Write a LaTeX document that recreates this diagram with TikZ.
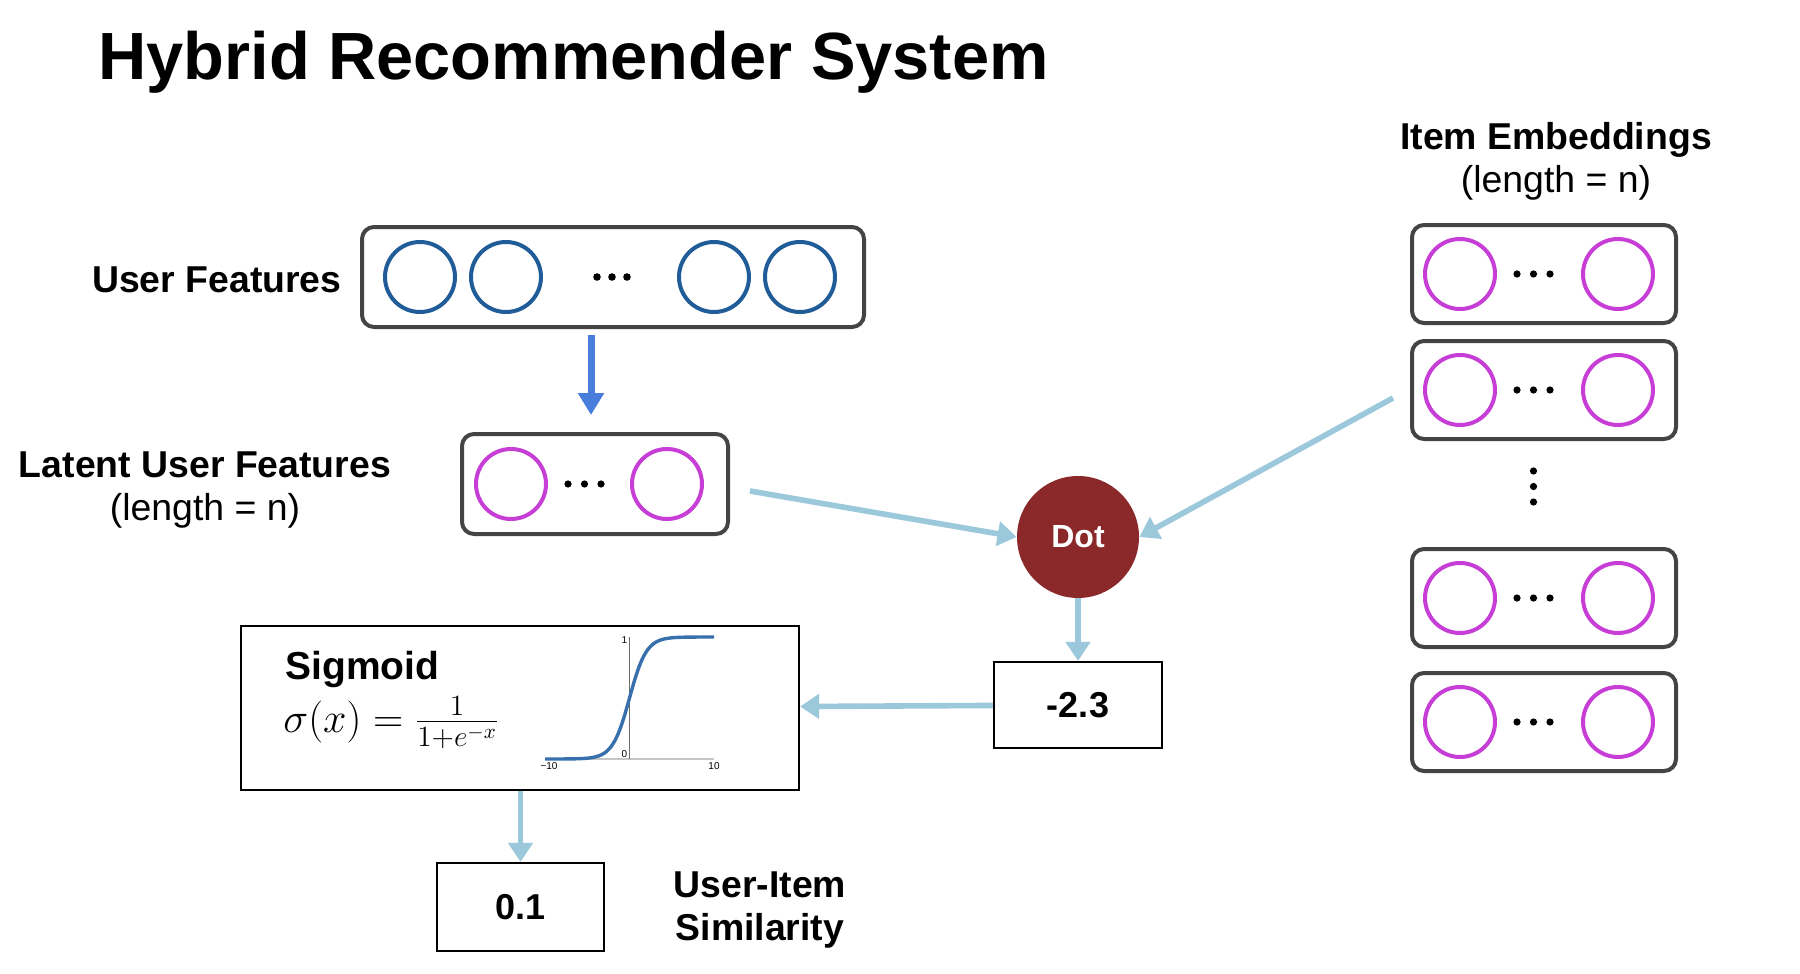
\documentclass[tikz,border=0pt]{standalone}
\usepackage{fix-cm}
\usepackage{fontspec}
\setmainfont{Liberation Sans}
\usetikzlibrary{arrows.meta}
\definecolor{framegray}{RGB}{68,68,68}
\definecolor{featblue}{RGB}{32,92,152}
\definecolor{embpink}{RGB}{198,62,214}
\definecolor{downblue}{RGB}{72,125,220}
\definecolor{flowblue}{RGB}{155,200,218}
\definecolor{dotred}{RGB}{139,41,42}
\definecolor{curveblue}{RGB}{55,112,172}
\tikzset{
  vecbox/.style={draw=framegray, line width=2pt, rounded corners=6pt, minimum height=49pt, inner sep=0pt},
  ucirc/.style={circle, draw=featblue, line width=2pt, minimum size=35pt, inner sep=0pt},
  pcirc/.style={circle, draw=embpink, line width=2pt, minimum size=35pt, inner sep=0pt},
  valbox/.style={draw, line width=1.1pt, inner sep=0pt, font=\fontsize{18}{20}\selectfont\bfseries},
  flow/.style={draw=flowblue, line width=2.8pt, -{Triangle[width=12pt,length=9.5pt]}},
  lbl/.style={font=\fontsize{18.7}{21.5}\selectfont\bfseries, align=center},
}
\begin{document}
\begin{tikzpicture}[x=0.5pt, y=-0.5pt]
  \useasboundingbox (0,0) rectangle (1800,974);
  \node[anchor=base west, font=\fontsize{33.4}{40}\selectfont\bfseries, inner sep=0pt] (title) at (98,80) {Hybrid Recommender System};
  % User features
  \node[lbl, anchor=east, inner sep=0pt] (ulabel) at (342,280) {User Features};
  \node[vecbox, minimum width=251pt, minimum height=50pt] (ufeat) at (613,277) {};
  \foreach \i/\x in {1/420, 2/506, 3/714, 4/800}
    \node[ucirc] (u\i) at (\x,277) {};
  \foreach \x in {597, 612, 627}
    \fill (\x,277) circle (1.9pt);
  % Latent user features
  \node[lbl, inner sep=0pt] (llabel) at (205,490) {Latent User Features\\\mdseries(length = n)};
  \node[vecbox, minimum width=133pt, minimum height=50pt] (latent) at (595,484) {};
  \node[pcirc] (la) at (511,484) {};
  \node[pcirc] (lb) at (667,484) {};
  \foreach \x in {568, 584.5, 601}
    \fill (\x,484) circle (1.8pt);
  % Item embeddings
  \node[lbl, inner sep=0pt] (ilabel) at (1556,161.5) {Item Embeddings\\\mdseries(length = n)};
  \foreach \n/\y in {item1/274, item2/390, item3/598, item4/722} {
    \node[vecbox, minimum width=132pt] (\n) at (1544,\y) {};
    \node[pcirc] (\n a) at (1460,\y) {};
    \node[pcirc] (\n b) at (1618,\y) {};
    \foreach \x in {1517, 1533.5, 1550}
      \fill (\x,\y) circle (1.8pt);
  }
  \foreach \y in {471, 486.5, 502}
    \fill (1533.5,\y) circle (1.8pt);
  % Dot product and values
  \node[circle, fill=dotred, minimum size=61pt, inner sep=0pt, text=white, font=\fontsize{16}{18}\selectfont\bfseries] (dot) at (1078,537) {Dot};
  \node[valbox, minimum width=84pt, minimum height=43pt] (val) at (1078,705) {-2.3};
  \node[draw, line width=1.1pt, minimum width=279pt, minimum height=82pt, inner sep=0pt] (sig) at (520,708) {};
  \node[valbox, minimum width=83.5pt, minimum height=44pt] (sim) at (520.5,907) {0.1};
  \node[lbl, inner sep=0pt] (simlabel) at (760,910) {User-Item\\Similarity};
  % Sigmoid panel
  \node[anchor=west, inner sep=0pt, font=\fontsize{19.5}{22}\selectfont\bfseries] (sigtitle) at (285,669.5) {Sigmoid};
  \node[anchor=west, inner sep=0pt, font=\fontsize{21}{25}\selectfont] (sigeq) at (283,723) {$\sigma(x) = \frac{1}{1+e^{-x}}$};
  \draw[gray!45, line width=0.7pt] (545,759) -- (714,759);
  \draw[gray!85!black, line width=0.6pt] (629.5,637) -- (629.5,759);
  \draw[curveblue, line width=1.7pt, domain=-10:10, samples=80] plot ({629.5+8.45*\x},{759-61*(1+tanh(\x/2))});
  \node[font=\fontsize{5}{6}\selectfont, anchor=north, inner sep=1pt] (xmin) at (549,760) {−10};
  \node[font=\fontsize{5}{6}\selectfont, anchor=north, inner sep=1pt] (xmax) at (714,760) {10};
  \node[font=\fontsize{5}{6}\selectfont, anchor=south east, inner sep=1pt] (yzero) at (629.5,760) {0};
  \node[font=\fontsize{5}{6}\selectfont, anchor=east, inner sep=1pt] (yone) at (629.5,640) {1};
  % Connectors
  \draw[downblue, line width=3.5pt, -{Triangle[width=12.5pt,length=11pt]}] ([xshift=-2pt,yshift=-3pt]ufeat.south -| latent.north) -- ([xshift=-2pt,yshift=8.5pt]latent.north);
  \draw[flow] ([xshift=10pt,yshift=-3.5pt]latent.east) -- (dot.west);
  \draw[flow] ([xshift=-8.5pt,yshift=-4pt]item2.west) -- (dot.east);
  \draw[flow] (dot) -- (val);
  \draw[flow] (val) -- (sig);
  \draw[flow] (sig.south -| sim.north) -- (sim.north);
\end{tikzpicture}
\end{document}
